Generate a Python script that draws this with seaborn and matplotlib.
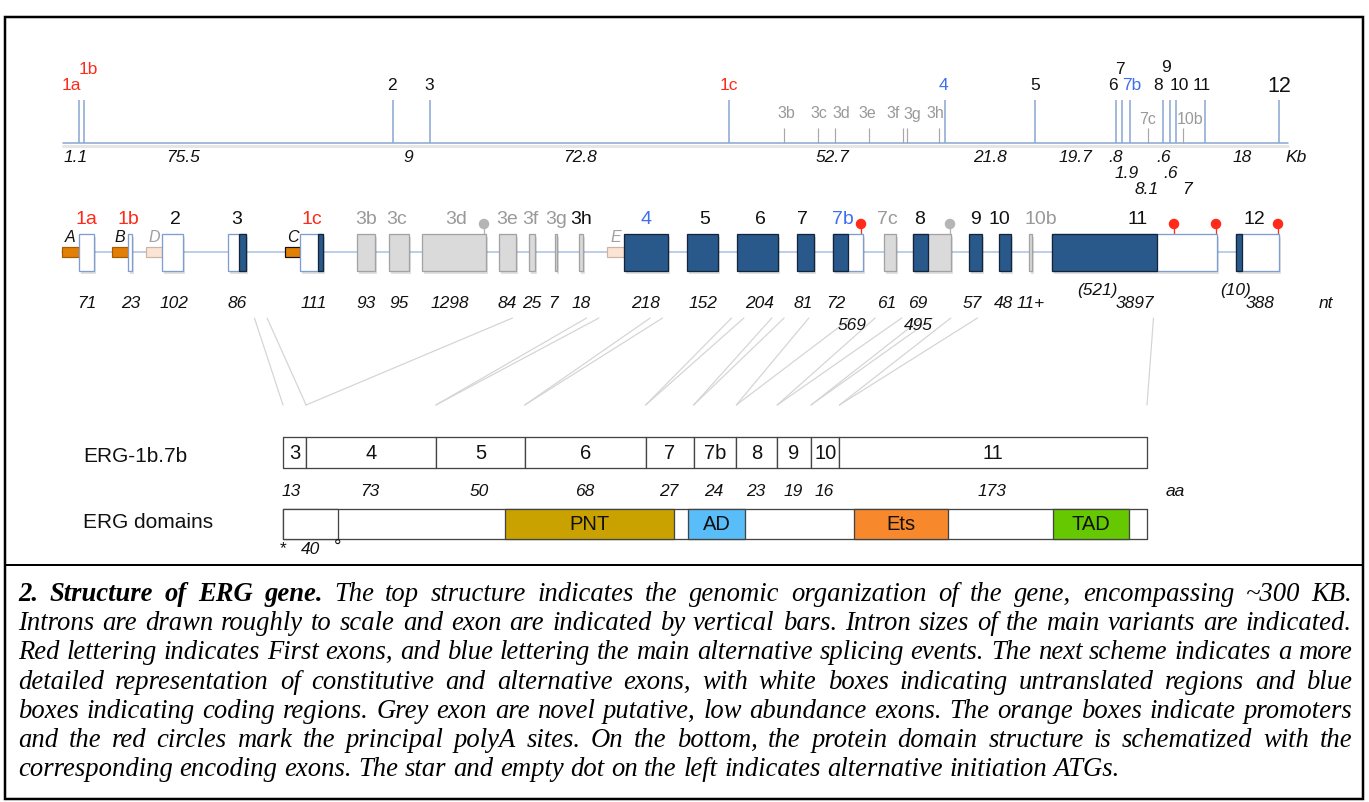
import numpy as np
import matplotlib
matplotlib.use('Agg')
import matplotlib.pyplot as plt
import seaborn as sns
import pandas as pd
from matplotlib.patches import Rectangle

sns.set_theme(style='white')
plt.rcParams['font.family'] = ['Liberation Sans', 'DejaVu Sans']

W, H = 1369, 802
PX = 0.72  # one pixel in points

# ---------------- data: genomic organisation (top) ----------------
gen_exons = ['1a', '1b', '2', '3', '1c', '4', '5', '6', '7', '7b', '8', '9', '10', '11', '12']
gen_colors = ['red', 'red', 'black', 'black', 'red', 'blue', 'black', 'black', 'black', 'blue',
              'black', 'black', 'black', 'black', 'black']
intron_kb = [1.1, 75.5, 9, 72.8, 52.7, 21.8, 19.7, 0.8, 1.9, 8.1, 0.6, 0.6, 7, 18]
intron_labels = ['1.1', '75.5', '9', '72.8', '52.7', '21.8', '19.7', '.8', '1.9', '8.1', '.6', '.6', '7', '18']
gen_grey = ['3b', '3c', '3d', '3e', '3f', '3g', '3h', '7c', '10b']
gen_grey_anchor = ['1c', '1c', '1c', '1c', '1c', '1c', '1c', '7b', '10']
gen_grey_kb = [13.5, 21.7, 25.9, 34.0, 42.4, 43.3, 51.2, 4.3, 1.7]

# ---------------- data: exon structure (schematic units) ----------------
mid_names = ['1a', '1b', '2', '3', '1c', '3b', '3c', '3d', '3e', '3f', '3g', '3h', '4', '5', '6',
             '7', '7b', '7c', '8', '9', '10', '10b', '11', '12']
mid_start = [79, 128, 162, 228, 300, 357, 389, 422, 499, 529, 555, 579, 624, 687, 737,
             797, 833, 884, 913, 969, 999, 1029, 1052, 1236]
mid_end = [94, 132, 183, 246, 323, 375, 409, 486, 516, 535, 557, 583, 668, 718, 778,
           814, 863, 896, 951, 982, 1011, 1032, 1217, 1279]
mid_kind = ['utr', 'utr', 'utr', 'utr', 'utr', 'grey', 'grey', 'grey', 'grey', 'grey', 'grey', 'grey',
            'cds', 'cds', 'cds', 'cds', 'utr', 'grey', 'grey', 'cds', 'cds', 'grey', 'utr', 'utr']
cds_start = [np.nan, np.nan, np.nan, 239, 318, np.nan, np.nan, np.nan, np.nan, np.nan, np.nan, np.nan,
             624, 687, 737, 797, 833, np.nan, 913, 969, 999, np.nan, 1052, 1236]
cds_end = [np.nan, np.nan, np.nan, 246, 323, np.nan, np.nan, np.nan, np.nan, np.nan, np.nan, np.nan,
           668, 718, 778, 814, 848, np.nan, 928, 982, 1011, np.nan, 1157, 1242]
mid_label_color = ['red', 'red', 'black', 'black', 'red', 'grey', 'grey', 'grey', 'grey', 'grey', 'grey',
                   'black', 'blue', 'black', 'black', 'black', 'blue', 'grey', 'black', 'black', 'black',
                   'grey', 'black', 'black']
nt_sizes = ['71', '23', '102', '86', '111', '93', '95', '1298', '84', '25', '7', '18', '218', '152', '204',
            '81', '72', '61', '69', '57', '48', '11+', '3897', '388']
nt_second = {'7b': '569', '8': '495'}
nt_coding = {'11': '(521)', '12': '(10)'}
prom_names = ['A', 'B', 'D', 'C', 'E']
prom_start = [62, 112, 146, 285, 607]
prom_end = [79, 128, 162, 300, 624]
prom_kind = ['main', 'main', 'minor', 'main_c', 'minor']
polyA_main = [861, 1174, 1216, 1278]
polyA_minor = [484, 950]

# ---------------- data: protein ----------------
prot_exons = ['3', '4', '5', '6', '7', '7b', '8', '9', '10', '11']
prot_aa = [13, 73, 50, 68, 27, 24, 23, 19, 16, 173]
dom_names = ['PNT', 'AD', 'Ets', 'TAD']
dom_start = [125, 228, 321, 433]
dom_end = [220, 260, 374, 476]
dom_colors = ['#C9A200', '#58BDF8', '#F7882C', '#66C800']
atg2_aa = 31

caption = [
    "2. Structure of ERG gene. The top structure indicates the genomic organization of the gene, encompassing ~300 KB.",
    "Introns are drawn roughly to scale and exon are indicated  by vertical bars. Intron sizes of the main variants are indicated.",
    "Red lettering indicates First exons, and blue lettering the main alternative splicing events. The next scheme indicates a more",
    "detailed representation of constitutive and alternative exons, with white boxes indicating untranslated regions and blue",
    "boxes indicating coding regions. Grey exon are novel putative, low abundance exons. The orange boxes indicate promoters",
    "and the red circles  mark the principal polyA sites. On the bottom, the protein domain structure is schematized with the",
    "corresponding encoding exons. The star and empty dot on the left indicates alternative initiation ATGs.",
]

# ---------------- colours ----------------
C_RED = '#FF2A1A'
C_BLUE = '#3F6FF0'
C_GREY = '#999999'
col_map = {'red': C_RED, 'blue': C_BLUE, 'black': '#111111', 'grey': C_GREY}
C_LINE = '#8EA9D4'
C_CDS = '#28598A'
C_CDS_E = '#14243A'
C_UTR_E = '#7E9ED2'
C_GREYX = '#DADADA'
C_GREYX_E = '#A3A3A3'

fig = plt.figure(figsize=(W / 100, H / 100), dpi=100)


def layer(xlim):
    ax = fig.add_axes([0, 0, 1, 1])
    ax.set_xlim(*xlim)
    ax.set_ylim(H, 0)
    ax.axis('off')
    ax.patch.set_alpha(0)
    return ax


axp = layer((0, W))          # pixel layer: frame, schematic, caption

# ---- genomic layer (x in kb) ----
gaps = np.where(np.array(intron_kb) < 1, 1.6, np.array(intron_kb))
gen_pos = np.concatenate([[0], np.cumsum(gaps)])
x0_px, x1_px = 79, 1279
s = (x1_px - x0_px) / gen_pos[-1]
axg = layer((-x0_px / s, (W - x0_px) / s))
pos_of = dict(zip(gen_exons, gen_pos))

GY = 143
axg.plot([-16 / s, gen_pos[-1] + 9 / s], [GY + 3, GY + 3], color='#E6E6E6', lw=3 * PX, zorder=1)
axg.plot([-16 / s, gen_pos[-1] + 9 / s], [GY, GY], color=C_LINE, lw=1.6 * PX, zorder=2)
axg.vlines(gen_pos, 100, GY, color=C_LINE, lw=1.6 * PX, zorder=2)
grey_pos = np.array([pos_of[a] for a in gen_grey_anchor]) + np.array(gen_grey_kb)
axg.vlines(grey_pos, 128, GY, color='#A8A8A8', lw=1.2 * PX, zorder=2)

lab_dx = {'1a': -8, '1b': 5, '6': -3, '7': -2, '7b': 2, '8': -5, '9': -4, '10': 3, '11': -3, '4': -2, '2': -1, '3': -1}
lab_y = {'1b': 69, '7': 69, '9': 68}
for name, p, c in zip(gen_exons, gen_pos, gen_colors):
    fs = 15.5 if name == '12' else 12.5
    axg.text(p + lab_dx.get(name, 0) / s, lab_y.get(name, 85) + (2 if name == '12' else 0), name,
             color=col_map[c], fontsize=fs, ha='center', va='center')
grey_dy = {'7c': 120, '10b': 120}
grey_dx = {'3b': 2, '3c': 1, '3d': 6, '3e': -1, '3f': -10, '3g': 6, '3h': -4, '7c': 0, '10b': 7}
for name, p in zip(gen_grey, grey_pos):
    axg.text(p + grey_dx[name] / s, grey_dy.get(name, 114), name, color=C_GREY, fontsize=11.5,
             ha='center', va='center')

mids = (gen_pos[:-1] + gen_pos[1:]) / 2
in_dx = [-6, -55, -4, 0, -5, 0, 0, -3, 0, 0, -3, -3, -4, 0]
in_y = [158, 158, 158, 158, 158, 158, 158, 158, 173, 190, 158, 173, 190, 158]
for m, lab, dx, yy in zip(mids, intron_labels, in_dx, in_y):
    axg.text(m + dx / s, yy, lab, fontsize=12.5, style='italic', ha='center', va='center', color='#111111')
axp.text(1296, 158, 'Kb', fontsize=12.5, style='italic', ha='center', va='center', color='#111111')

# ---- exon structure (pixel schematic units) ----
MY, BT, BB = 252, 234, 271
axp.plot([62, 1236], [MY, MY], color='#ADC2E3', lw=1.6 * PX, zorder=2)
for ps, pe, pk, pn in zip(prom_start, prom_end, prom_kind, prom_names):
    if pk == 'minor':
        fc, ec = '#FBE4D4', '#CDB3A3'
    else:
        fc, ec = '#E27F05', ('#111111' if pk == 'main_c' else '#A75A00')
    axp.add_patch(Rectangle((ps, 247), pe - ps, 10, fc=fc, ec=ec, lw=1.2 * PX, zorder=3))
    axp.text((ps + pe) / 2, 238, pn, fontsize=11.5, style='italic', ha='center', va='center',
             color='#A0A0A0' if pk == 'minor' else '#111111')

for i, name in enumerate(mid_names):
    xs, xe, k = mid_start[i], mid_end[i], mid_kind[i]
    axp.add_patch(Rectangle((xs + 1.5, BT + 3), xe - xs, BB - BT, fc='#000000', alpha=0.12, lw=0, zorder=3))
    if k == 'grey':
        fc, ec = C_GREYX, C_GREYX_E
    elif k == 'utr':
        fc, ec = 'white', C_UTR_E
    else:
        fc, ec = C_CDS, C_CDS_E
    axp.add_patch(Rectangle((xs, BT), xe - xs, BB - BT, fc=fc, ec=ec, lw=1.3 * PX, zorder=4))
    if k != 'cds' and not np.isnan(cds_start[i]):
        axp.add_patch(Rectangle((cds_start[i], BT), cds_end[i] - cds_start[i], BB - BT,
                                fc=C_CDS, ec=C_CDS_E, lw=1.3 * PX, zorder=5))

for xs_, c in [(polyA_main, C_RED), (polyA_minor, '#B5B5B5')]:
    axp.vlines(xs_, 224, BT, color=c, lw=1.3 * PX, zorder=3)
    sns.scatterplot(x=xs_, y=[224] * len(xs_), ax=axp, color=c, s=(10.5 * PX) ** 2,
                    edgecolor='none', zorder=6, legend=False)

mlab_dx = {'2': 3, '1b': -2, '3c': -2, '3d': 2, '3f': -2, '5': 2, '6': 3, '7': -3, '7b': -5,
           '7c': -3, '8': -12, '10': -6, '10b': 10, '11': 3, '12': -3}
mid_ctr = (np.array(mid_start) + np.array(mid_end)) / 2
for name, c, ctr in zip(mid_names, mid_label_color, mid_ctr):
    axp.text(ctr + mlab_dx.get(name, 0), 219, name, fontsize=14, color=col_map[c], ha='center', va='center')

nt_dx = {'1b': 1, '2': 1, '1c': 2, '3c': 0, '3d': -4, '3e': 0, '3g': -3, '6': 2, '7': -2, '7b': -12,
         '7c': -3, '8': -14, '9': -3, '10': -1, '10b': 0, '12': 3}
for name, lab, ctr in zip(mid_names, nt_sizes, mid_ctr):
    axp.text(ctr + nt_dx.get(name, 0), 303, lab, fontsize=12.5, style='italic', ha='center', va='center',
             color='#111111')
    if name in nt_second:
        axp.text(ctr + nt_dx.get(name, 0) + (16 if name == '7b' else 0), 325, nt_second[name],
                 fontsize=12.5, style='italic', ha='center', va='center', color='#111111')
cod_pos = {'11': 1097, '12': 1236}
for name, lab in nt_coding.items():
    axp.text(cod_pos[name], 290, lab, fontsize=12.5, style='italic', ha='center', va='center', color='#111111')
axp.text(1326, 303, 'nt', fontsize=12.5, style='italic', ha='center', va='center', color='#111111')

# ---- protein layer (x in aa) ----
p_scale = (1147 - 283) / sum(prot_aa)
axa = layer((-283 / p_scale, (W - 283) / p_scale))
bounds = np.concatenate([[0], np.cumsum(prot_aa)])
PT, PH = 437, 31
for k, name in enumerate(prot_exons):
    axa.broken_barh([(bounds[k], prot_aa[k])], (PT, PH), facecolors='white', edgecolors='#444444',
                    linewidth=1.3 * PX, zorder=3)
    axa.text((bounds[k] + bounds[k + 1]) / 2, PT + PH / 2 + 1, name, fontsize=14.5, ha='center', va='center',
             color='#111111', zorder=4)
    axa.text((bounds[k] + bounds[k + 1]) / 2 - (3 / p_scale if k == 0 else 1 / p_scale), 491, str(prot_aa[k]),
             fontsize=12.5, style='italic', ha='center', va='center', color='#111111')
axp.text(1175, 491, 'aa', fontsize=12.5, style='italic', ha='center', va='center', color='#111111')

DT, DH = 509, 30
axa.broken_barh([(0, bounds[-1])], (DT, DH), facecolors='white', edgecolors='#444444', linewidth=1.3 * PX, zorder=3)
axa.broken_barh([(0, atg2_aa)], (DT, DH), facecolors='white', edgecolors='#444444', linewidth=1.3 * PX, zorder=3)
for n, a0, a1, c in zip(dom_names, dom_start, dom_end, dom_colors):
    axa.broken_barh([(a0, a1 - a0)], (DT, DH), facecolors=c, edgecolors='#444444', linewidth=1.3 * PX, zorder=4)
    axa.text((a0 + a1) / 2, DT + DH / 2 + 1, n, fontsize=14.5, ha='center', va='center', color='#111111', zorder=5)
axa.text(0, 549, '*', fontsize=12.5, ha='center', va='center', color='#111111')
axa.text(atg2_aa / 2, 549, '40', fontsize=12.5, style='italic', ha='center', va='center', color='#111111')
axa.text(atg2_aa, 547, '°', fontsize=13.5, ha='center', va='center', color='#111111')

axp.text(83, 456, 'ERG-1b.7b', fontsize=15, ha='left', va='center', color='#111111')
axp.text(83, 522, 'ERG domains', fontsize=15, ha='left', va='center', color='#111111')

# ---- connecting lines between exon structure and protein ----
def aa_to_px(a):
    return axp.transData.inverted().transform(axa.transData.transform((a, 0)))[0]

Y0, Y1, YS = BB, 405, 318
prot_idx = {n: mid_names.index(n) for n in prot_exons}
for k, name in enumerate(prot_exons):
    i = prot_idx[name]
    for ex_x, b in [(cds_start[i], bounds[k]), (cds_end[i], bounds[k + 1])]:
        bx = aa_to_px(b)
        t = (YS - Y0) / (Y1 - Y0)
        xs_ = ex_x + (bx - ex_x) * t
        axp.plot([xs_, bx], [YS, Y1], color='#D4D4D4', lw=1.2 * PX, zorder=1)

# ---- frame ----
axp.add_patch(Rectangle((5, 17), 1358, 782, fill=False, ec='black', lw=2.5 * PX, zorder=10))
axp.plot([5, 1363], [565, 565], color='black', lw=2 * PX, zorder=10)

# ---- caption (justified) ----
renderer = fig.canvas.get_renderer()
SERIF = ['Liberation Serif', 'DejaVu Serif']


def twidth(txt, fs, weight='normal'):
    t = axp.text(0, 0, txt, fontsize=fs, family=SERIF, style='italic', weight=weight)
    w = t.get_window_extent(renderer).width
    t.remove()
    return w


base = twidth(caption[-1], 16)
cfs = 16 * 1100 / base
CL, CR = 18, 1352
space_w = twidth('a b', cfs) - twidth('ab', cfs)
for li, line in enumerate(caption):
    words = line.split()
    weights = ['bold' if (li == 0 and wi < 5) else 'normal' for wi in range(len(words))]
    widths = [twidth(w_, cfs, wt) for w_, wt in zip(words, weights)]
    if li < len(caption) - 1:
        gap = (CR - CL - sum(widths)) / (len(words) - 1)
    else:
        gap = space_w
    x = CL
    yb = 601 + li * 29.2
    for w_, wt, wd in zip(words, weights, widths):
        axp.text(x, yb, w_, fontsize=cfs, family=SERIF, style='italic', weight=wt, ha='left',
                 va='baseline', color='black')
        x += wd + gap

fig.savefig('out.png', dpi=100, facecolor='white')
